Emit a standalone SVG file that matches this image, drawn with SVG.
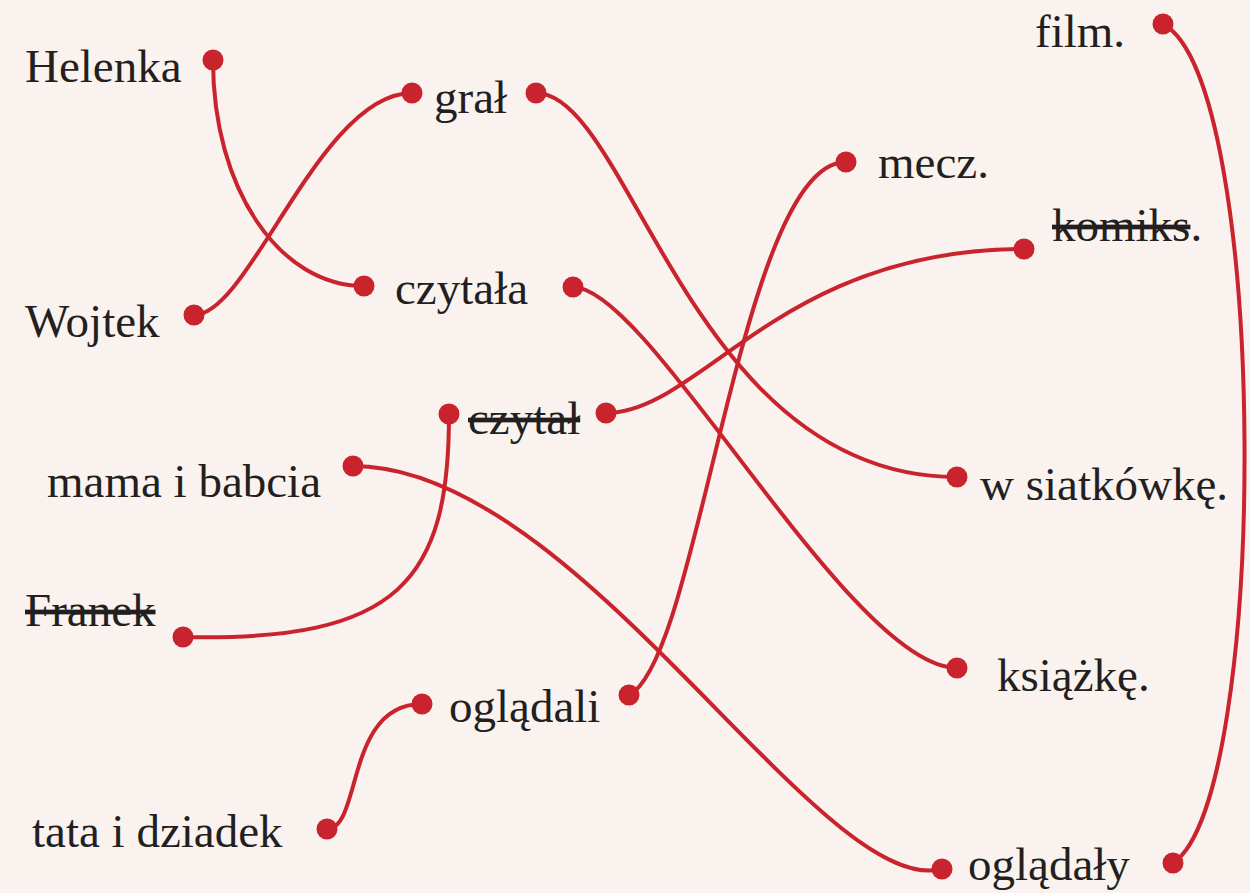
<svg xmlns="http://www.w3.org/2000/svg" width="1250" height="893" viewBox="0 0 1250 893">
<style>
text{font-family:"Liberation Serif","Times New Roman",serif;font-size:47px;fill:#231f20}
.s{text-decoration:line-through}
.c{fill:none;stroke:#c9242d;stroke-width:4;stroke-linecap:round}
.d{fill:#c9242d}
</style>
<rect width="1250" height="893" fill="#f9f2ee"/>
<g id="connectors">
<path class="c" d="M213,60 C213,190 280,286 364,286"/>
<path class="c" d="M194,315 C250,315 320,93 412,93"/>
<path class="c" d="M536,93 C630,93 690,477 957,477"/>
<path class="c" d="M573,287 C650,287 850,668 957,668"/>
<path class="c" d="M606,413 C700,413 780,249 1024,249"/>
<path class="c" d="M183,637 C400,642 449,580 449,414"/>
<path class="c" d="M353,466 C580,466 820,900 942,869"/>
<path class="c" d="M629,695 C700,660 740,162 846,162"/>
<path class="c" d="M327,829 C362,829 345,704 422,704"/>
<path class="c" d="M1173,863 C1270,800 1270,80 1163,24"/>
</g>
<g id="n-helenka"><text x="25" y="82">Helenka</text><circle class="d" cx="213" cy="60" r="10.5"/></g>
<g id="n-wojtek"><text x="25" y="337">Wojtek</text><circle class="d" cx="194" cy="315" r="10.5"/></g>
<g id="n-mama"><text x="47" y="497">mama i babcia</text><circle class="d" cx="353" cy="466" r="10.5"/></g>
<g id="n-franek"><text x="25" y="626" class="s">Franek</text><circle class="d" cx="183" cy="637" r="10.5"/></g>
<g id="n-tata"><text x="32" y="847">tata i dziadek</text><circle class="d" cx="327" cy="829" r="10.5"/></g>
<g id="n-gral"><circle class="d" cx="412" cy="93" r="10.5"/><text x="434" y="113">grał</text><circle class="d" cx="536" cy="93" r="10.5"/></g>
<g id="n-czytala"><circle class="d" cx="364" cy="286" r="10.5"/><text x="395" y="304">czytała</text><circle class="d" cx="573" cy="287" r="10.5"/></g>
<g id="n-czytal"><circle class="d" cx="449" cy="414" r="10.5"/><text x="468" y="434" class="s">czytał</text><circle class="d" cx="606" cy="413" r="10.5"/></g>
<g id="n-ogladali"><circle class="d" cx="422" cy="704" r="10.5"/><text x="449" y="722">oglądali</text><circle class="d" cx="629" cy="695" r="10.5"/></g>
<g id="n-film"><text x="1035" y="47">film.</text><circle class="d" cx="1163" cy="24" r="10.5"/></g>
<g id="n-mecz"><circle class="d" cx="846" cy="162" r="10.5"/><text x="878" y="178">mecz.</text></g>
<g id="n-komiks"><circle class="d" cx="1024" cy="249" r="10.5"/><text x="1052" y="241"><tspan class="s">komiks</tspan>.</text></g>
<g id="n-siatkowke"><circle class="d" cx="957" cy="477" r="10.5"/><text x="980" y="500">w siatkówkę.</text></g>
<g id="n-ksiazke"><circle class="d" cx="957" cy="668" r="10.5"/><text x="997" y="691">książkę.</text></g>
<g id="n-ogladaly"><circle class="d" cx="942" cy="869" r="10.5"/><text x="968" y="880">oglądały</text><circle class="d" cx="1173" cy="863" r="10.5"/></g>
</svg>
